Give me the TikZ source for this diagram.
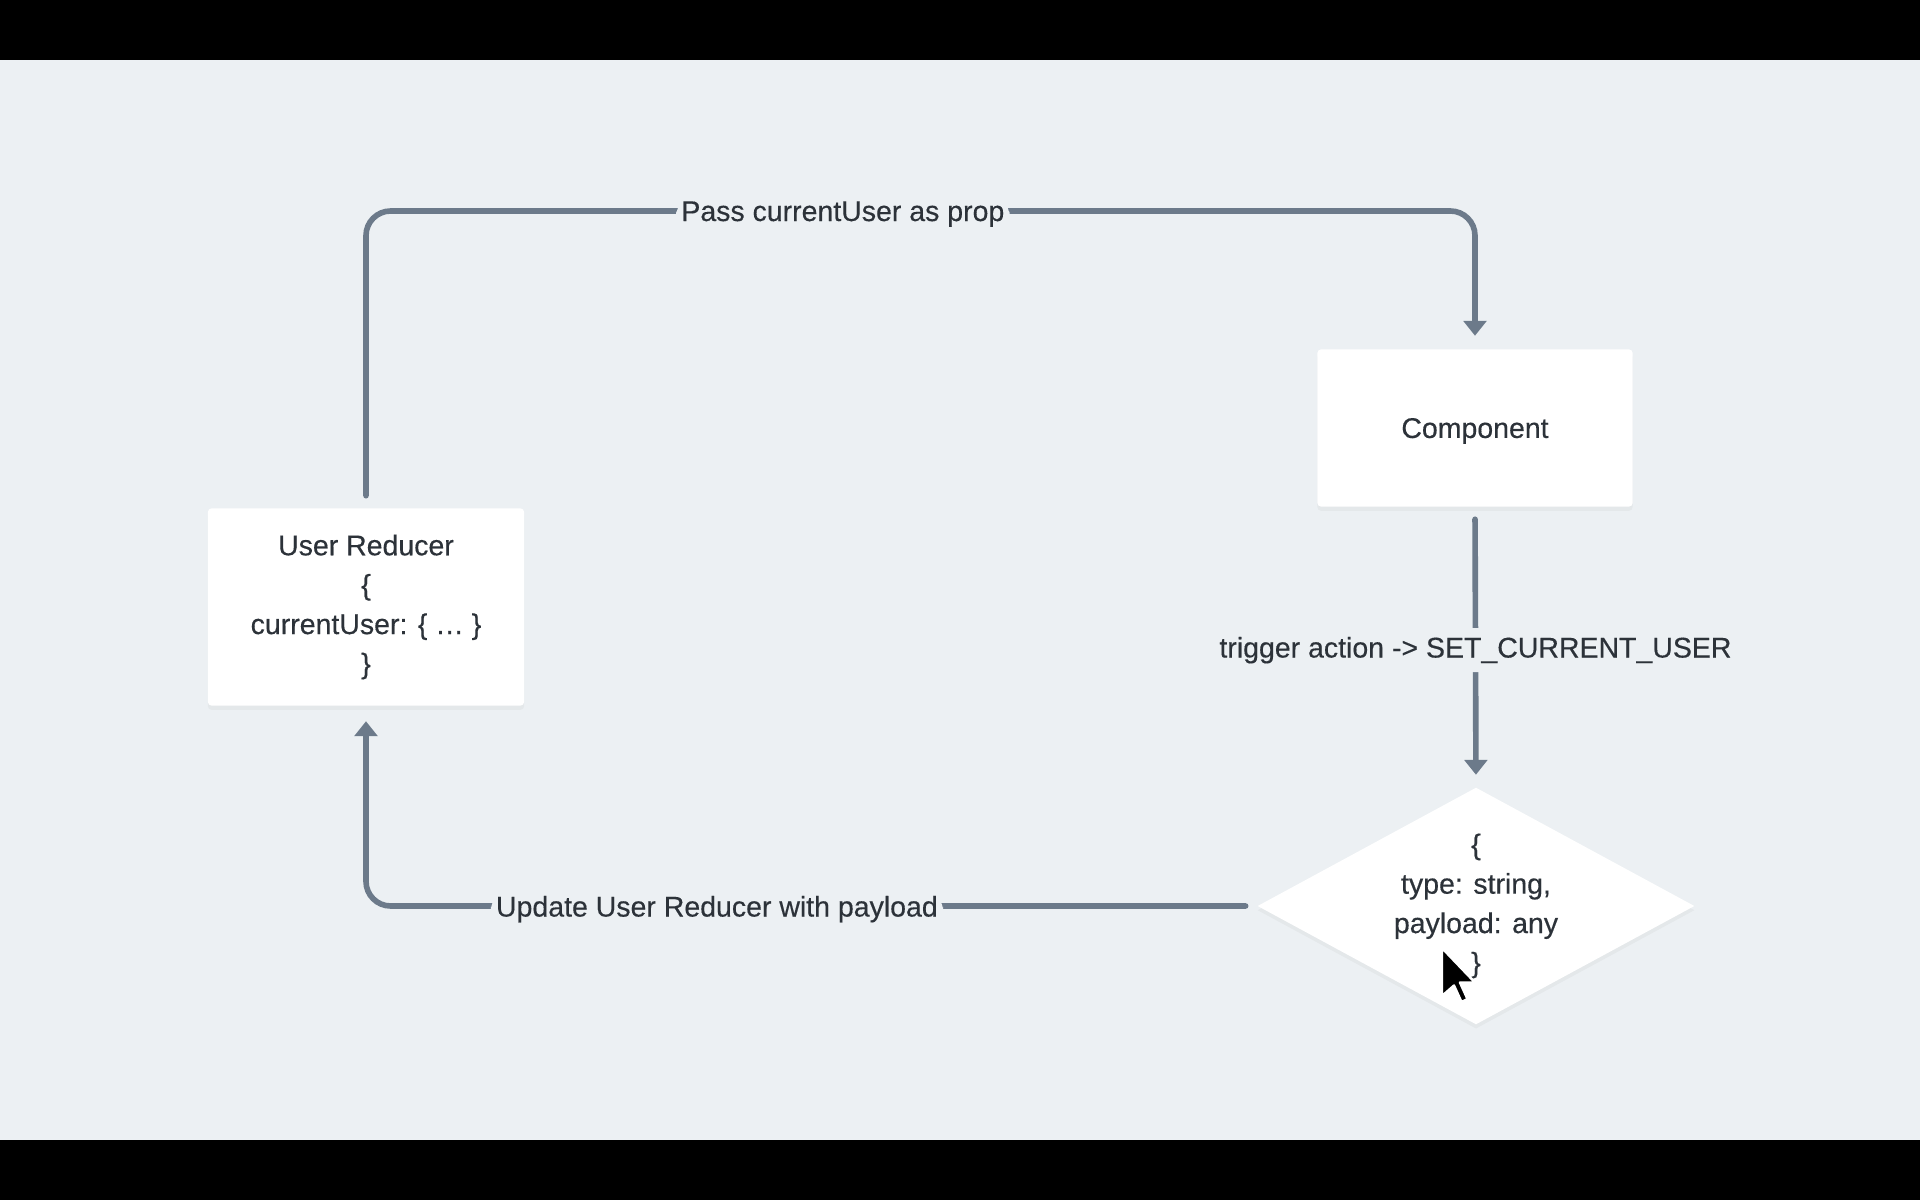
\documentclass[tikz,border=0pt]{standalone}
\usepackage{fontspec}
\setmainfont{Liberation Sans}[FakeBold=0.35]
\usetikzlibrary{shapes.geometric, arrows.meta, shadows}
\definecolor{canvas}{RGB}{236,240,243}
\definecolor{wire}{RGB}{108,122,138}
\definecolor{ink}{RGB}{44,50,57}
\begin{document}
\begin{tikzpicture}[x=0.01cm, y=-0.01cm,
  every node/.style={font=\fontsize{8.1pt}{11.2pt}\selectfont, text=ink},
  card/.style={rectangle, fill=white, rounded corners=1pt, inner sep=0pt, align=center,
    drop shadow={shadow xshift=0pt, shadow yshift=-1.2pt, opacity=0.07}},
  actshape/.style={diamond, fill=white, inner sep=0pt, shape aspect=1.84,
    minimum width=4.37cm, minimum height=2.37cm, align=center,
    drop shadow={shadow xshift=0pt, shadow yshift=-1.2pt, opacity=0.07}},
  conn/.style={draw=wire, line width=1.6pt, line cap=round, rounded corners=7pt,
    -{Triangle[width=6.4pt, length=4.2pt]}},
  lbl/.style={fill=canvas, inner xsep=1.5pt, inner ysep=2.5pt, yshift=-0.9pt},
  pointer/.style={fill=black, draw=white, line width=0.7pt, line join=round}
]
\useasboundingbox (0,0) rectangle (1920,1200);
% screen with letterbox bars
\fill[black] (0,0) rectangle (1920,1200);
\fill[canvas] (0,60) rectangle (1920,1140);

% nodes
\node[card, minimum width=3.16cm, minimum height=1.97cm] (ur) at (366,607)
  {User Reducer\\\{\\currentUser: \{ … \}\\\}};
\node[card, minimum width=3.15cm, minimum height=1.57cm, text depth=0pt] (comp) at (1475,428) {Component};
\node[actshape] (act) at (1476,906) {\{\\type: string,\\payload: any\\\}};

% connectors
\coordinate (top) at (0,211);
\draw[conn, shorten <=0.12cm, shorten >=0.13cm] (ur.north) -- (ur.north |- top)
  -- node[lbl, pos=0.43] {Pass currentUser as prop} (comp.north |- top) -- (comp.north);
\draw[conn, shorten <=0.12cm, shorten >=0.12cm] (comp.south)
  -- node[lbl] {trigger action -> SET\_CURRENT\_USER} (act.north);
\draw[conn, shorten <=0.11cm, shorten >=0.15cm] (act.west)
  -- node[lbl, pos=0.606] {Update User Reducer with payload} (ur.south |- act.west) -- (ur.south);

% mouse pointer
\filldraw[pointer, shift={(1442,948)}] (0,0) -- (0,48) -- (12,37.5) -- (19.5,54)
  -- (25.5,51) -- (18,34.5) -- (33,34.5) -- cycle;
\end{tikzpicture}
\end{document}
